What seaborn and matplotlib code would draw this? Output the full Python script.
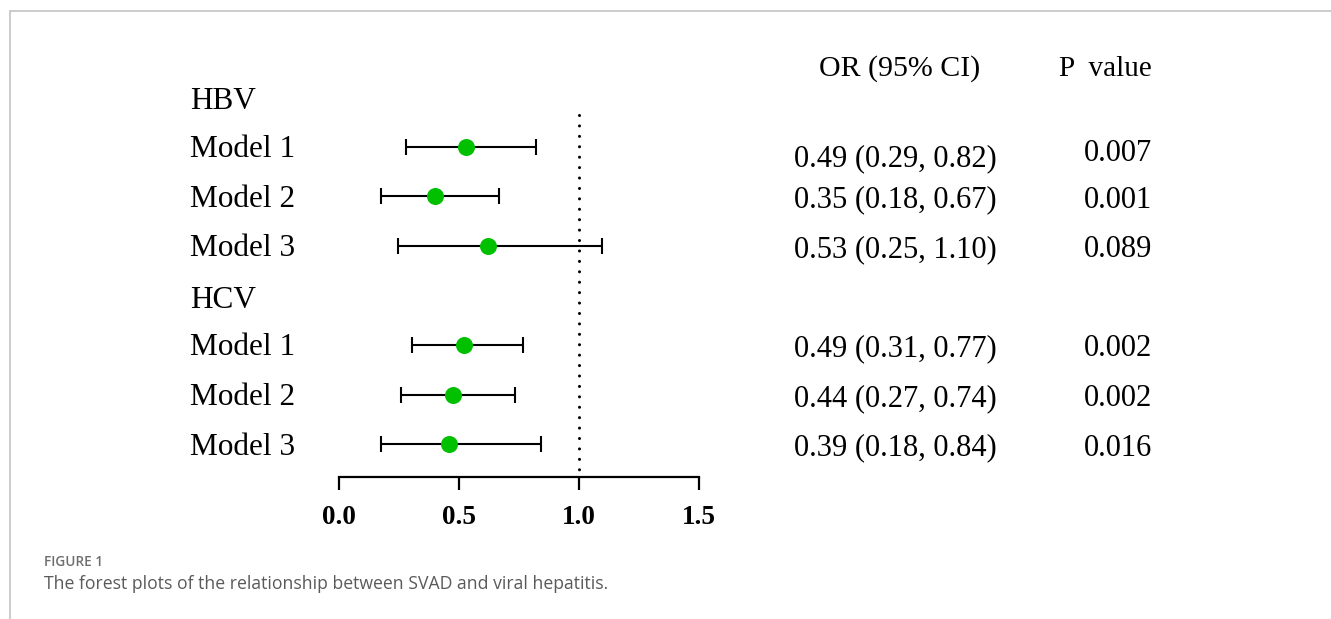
import matplotlib
matplotlib.use("Agg")
import matplotlib.pyplot as plt
import seaborn as sns
import pandas as pd
from matplotlib.lines import Line2D
import matplotlib.transforms as mtransforms

# ---- data ----
groups = ["HBV", "HCV"]
models = ["Model 1", "Model 2", "Model 3"]
# plotted point estimates and CI bounds (as drawn)
hbv_point = [0.53, 0.40, 0.62]
hbv_low = [0.28, 0.175, 0.245]
hbv_high = [0.82, 0.665, 1.095]
hcv_point = [0.52, 0.475, 0.46]
hcv_low = [0.305, 0.26, 0.175]
hcv_high = [0.765, 0.735, 0.84]
# printed text columns
hbv_or_text = ["0.49 (0.29, 0.82)", "0.35 (0.18, 0.67)", "0.53 (0.25, 1.10)"]
hbv_p_text = ["0.007", "0.001", "0.089"]
hcv_or_text = ["0.49 (0.31, 0.77)", "0.44 (0.27, 0.74)", "0.39 (0.18, 0.84)"]
hcv_p_text = ["0.002", "0.002", "0.016"]
x_ticks = [0.0, 0.5, 1.0, 1.5]
x_ticklabels = ["0.0", "0.5", "1.0", "1.5"]
ref_value = 1.0

# ---- table ----
rows = []
r = 0
for g, pts, lo, hi, ort, pt in [("HBV", hbv_point, hbv_low, hbv_high, hbv_or_text, hbv_p_text),
                                ("HCV", hcv_point, hcv_low, hcv_high, hcv_or_text, hcv_p_text)]:
    rows.append(dict(label=g, row=r, point=None, low=None, high=None, ortext="", ptext=""))
    r += 1
    for i, m in enumerate(models):
        rows.append(dict(label=m, row=r, point=pts[i], low=lo[i], high=hi[i],
                         ortext=ort[i], ptext=pt[i]))
        r += 1
df = pd.DataFrame(rows)
est = df.dropna(subset=["point"]).copy()
est["point"] = est["point"].astype(float)

# ---- figure ----
W, H = 1331, 619
sns.set_style("white")
plt.rcParams["font.family"] = ["Liberation Serif", "DejaVu Serif"]
plt.rcParams["text.color"] = "black"
fig = plt.figure(figsize=(W / 100, H / 100), dpi=100)

def fx(px):
    return px / W

def fy(py):
    return 1 - py / H

ax_top, ax_bot = 80, 477
ax = fig.add_axes([fx(339), fy(ax_bot), fx(699) - fx(339), fy(ax_top) - fy(ax_bot)])
row0_px, row_step = 97, 49.6
ax.set_ylim((ax_bot - row0_px) / row_step, (ax_top - row0_px) / row_step)
ax.set_xlim(0, 1.5)

green = "#00C000"
ax.errorbar(est["point"], est["row"],
            xerr=[est["point"] - est["low"], est["high"] - est["point"]],
            fmt="none", ecolor="black", elinewidth=1.5, capsize=6, capthick=1.5, zorder=2)
sns.scatterplot(data=est, x="point", y="row", ax=ax, color=green, s=150,
                edgecolor=green, linewidth=0, zorder=3, legend=False)

ax.plot([ref_value, ref_value], [(115 - row0_px) / row_step, (472 - row0_px) / row_step],
        color="black", linewidth=2.2, linestyle=(0, (0.01, 3.4)), dash_capstyle="round",
        solid_capstyle="round", zorder=1)

for s in ["top", "right", "left"]:
    ax.spines[s].set_visible(False)
ax.spines["bottom"].set_linewidth(1.6)
ax.spines["bottom"].set_color("black")
ax.set_yticks([])
ax.set_xticks(x_ticks)
ax.set_xticklabels(x_ticklabels, fontsize=19.5, fontweight="bold", color="black",
                   fontfamily=["Liberation Serif", "DejaVu Serif"])
ax.tick_params(axis="x", bottom=True, direction="out", length=9.5, width=1.6,
               color="black", labelcolor="black", pad=11)
ax.set_xlabel("")
ax.set_ylabel("")
ax.patch.set_alpha(0)

# left labels
trans = mtransforms.blended_transform_factory(fig.transFigure, ax.transData)
for _, rw in df.iterrows():
    off = 0.1 if rw["label"] in groups else 0.06
    ax.text(fx(190), rw["row"] + off, rw["label"], transform=trans, ha="left", va="center",
            fontsize=22.5, color="black", clip_on=False)

# right columns
for _, rw in est.iterrows():
    off = 0.25 if rw["row"] == 1 else 0.08
    ax.text(fx(794), rw["row"] + off, rw["ortext"], transform=trans, ha="left", va="center",
            fontsize=22, color="black", clip_on=False)
    poff = 0.14 if rw["row"] == 1 else 0.08
    ax.text(fx(1152), rw["row"] + poff, rw["ptext"], transform=trans, ha="right", va="center",
            fontsize=22, color="black", clip_on=False)

fig.text(fx(900), fy(69), "OR (95% CI)", ha="center", va="center", fontsize=21.5, color="black")
fig.text(fx(1105), fy(69), "P  value", ha="center", va="center", fontsize=21, color="black")

# frame & caption
fig.add_artist(Line2D([fx(10), 1], [fy(11), fy(11)], color="#c4c4c4", linewidth=1.2))
fig.add_artist(Line2D([fx(10), fx(10)], [fy(11), 0], color="#c4c4c4", linewidth=1.2))
fig.text(fx(44), fy(562), "FIGURE 1", ha="left", va="center", fontsize=9.8,
         fontfamily=["Open Sans", "DejaVu Sans"], fontweight="semibold", color="#6e6e6e")
fig.text(fx(44), fy(584), "The forest plots of the relationship between SVAD and viral hepatitis.",
         ha="left", va="center", fontsize=12.7, fontfamily=["Open Sans", "DejaVu Sans"],
         color="#5a5a5a")

fig.savefig("out.png", dpi=100)
